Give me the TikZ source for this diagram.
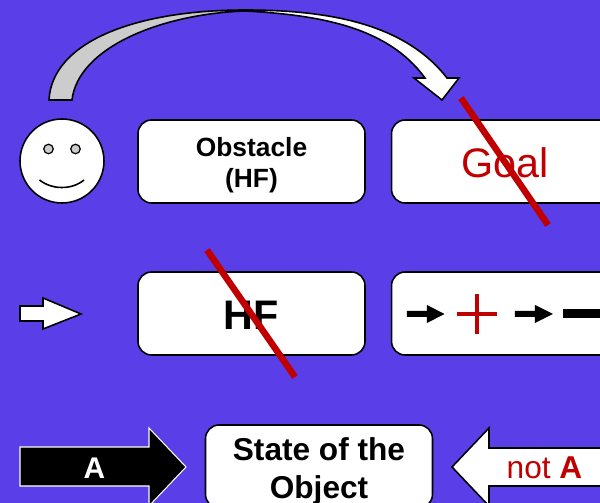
\documentclass[tikz,border=0pt]{standalone}
\usepackage{fontspec}
\setmainfont{Liberation Sans}
\usepackage{xcolor}
\usetikzlibrary{positioning}
\definecolor{slidebg}{HTML}{5A3EE8}
\definecolor{cutred}{HTML}{C00000}
\definecolor{swooshgray}{HTML}{CCCCCC}

\begin{document}
\begin{tikzpicture}[x=0.02cm, y=-0.02cm,
  box/.style={draw=black, fill=white, line width=0.9pt, rounded corners=0.27cm,
              minimum width=4.54cm, minimum height=1.66cm, inner sep=0pt},
  obj/.style={line width=0.9pt, draw=black, fill=white, line join=miter},
  eye/.style={circle, draw=black, fill=swooshgray, line width=0.7pt, minimum size=0.19cm, inner sep=0pt},
  tiny/.style={fill=black, draw=none},
  cut/.style={draw=cutred, line width=3.7pt},
  smalltxt/.style={align=center, font=\fontsize{15}{17.6}\selectfont\bfseries},
  bigtxt/.style={align=center, font=\fontsize{18}{21.6}\selectfont\bfseries}
]
\useasboundingbox (0,0) rectangle (600,503);
\clip (0,0) rectangle (600,503);
\fill[slidebg] (0,0) rectangle (600,503);

% boxes
\node[box] (obstacle) at (251.5,161.5) {};
\node[box, right=0.5cm of obstacle] (goal) {};
\node[box] (hf) at (251.5,313.5) {};
\node[box, right=0.5cm of hf] (chain) {};
\node[box] (state) at (319,466.5) {};

% box texts
\node[smalltxt, yshift=-0.08cm] (obstacletxt) at (obstacle) {Obstacle\\(HF)};
\node[text=cutred, yshift=-0.02cm, font=\fontsize{23.5}{28}\selectfont] (goaltxt) at (goal) {Goal};
\node[yshift=-0.04cm, font=\fontsize{23.5}{28}\selectfont\bfseries] (hftxt) at (hf) {HF};
\node[bigtxt, yshift=-0.1cm] (statetxt) at (state) {State of the\\Object};

% smiley
\node[circle, obj, minimum size=1.68cm, inner sep=0pt] (face) at (62,161) {};
\node[eye] (eyeL) at (48.5,149) {};
\node[eye] (eyeR) at (75.5,149) {};
\draw[line width=0.9pt] (39.5,180) .. controls (52,190) and (72,190) .. (84,180);

% curved arrow
\draw[obj, fill=swooshgray] (49,100) .. controls (52,42) and (135,10) .. (245,10)
  -- (245,11) .. controls (160,14) and (78,48) .. (72,100) -- cycle;
\draw[obj] (245,10) .. controls (330,10) and (405,24) .. (447,78) -- (459,78) -- (442,100)
  -- (414,78) -- (425,78) .. controls (388,27) and (320,15) .. (245,11) -- cycle;

% block arrows
\draw[obj] (20,306) -- (43,306) -- (43,298) -- (81,314) -- (43,329) -- (43,321) -- (20,321) -- cycle;
\draw[obj, fill=black, draw=white, line width=0.6pt] (20,447) -- (149,447) -- (149,428) -- (186,467) -- (149,506)
  -- (149,486) -- (20,486) -- cycle;
\node[text=white, font=\fontsize{17}{20}\selectfont\bfseries] (a) at (94.5,468) {A};
\draw[obj] (620,448) -- (489,448) -- (489,428) -- (452,467) -- (489,506) -- (489,486) -- (620,486);
\node[text=cutred, font=\fontsize{18}{20}\selectfont] (nota) at (544.5,468) {not \textbf{A}};

% inside of the chain box
\fill[tiny] (407,311) -- (427,311) -- (427,305) -- (444.5,314) -- (427,323) -- (427,317) -- (407,317) -- cycle;
\fill[tiny] (515,311) -- (535,311) -- (535,305) -- (553,314) -- (535,323) -- (535,317) -- (515,317) -- cycle;
\fill[cutred] (457,312) rectangle (497,316);
\fill[cutred] (475,294) rectangle (479,334);
\fill[black] (563,309) rectangle (603,318);

% crossed out
\coordinate (goalA) at (461,98);
\coordinate (goalB) at (548,225);
\coordinate (hfA) at (207,250);
\coordinate (hfB) at (295,377);
\draw[cut] (goalA) -- (goalB);
\draw[cut] (hfA) -- (hfB);
\end{tikzpicture}
\end{document}
